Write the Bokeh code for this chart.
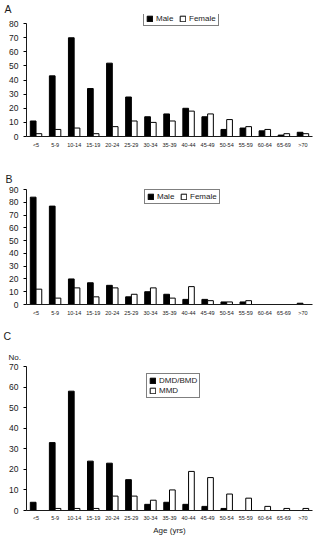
from bokeh.plotting import figure
from bokeh.layouts import column
from bokeh.models import ColumnDataSource, Range1d, Legend, Title
from bokeh.transform import dodge
from bokeh.embed import file_html
from bokeh.resources import INLINE

ages = ["<5", "5-9", "10-14", "15-19", "20-24", "25-29", "30-34", "35-39",
        "40-44", "45-49", "50-54", "55-59", "60-64", "65-69", ">70"]

# Panel A
a_male = [11, 43, 70, 34, 52, 28, 14, 16, 20, 14, 5, 6, 4, 1, 3]
a_female = [2, 5, 6, 2, 7, 11, 10, 11, 18, 16, 12, 7, 5, 2, 2]

# Panel B
b_male = [84, 77, 20, 17, 15, 6, 10, 8, 4, 4, 2, 2, 0, 0, 1]
b_female = [12, 5, 13, 6, 13, 8, 13, 5, 14, 3, 2, 3, 0, 0, 0]

# Panel C
c_dmd = [4, 33, 58, 24, 23, 15, 3, 4, 3, 2, 1, 0, 0, 0, 0]
c_mmd = [0, 1, 1, 1, 7, 7, 5, 10, 19, 16, 8, 6, 2, 1, 1]

FONT = "Liberation Sans"
INK = "#1a1a1a"


def panel(height, ymax, yend, s1, s2, names, border, legend_pos, orient, letter, letter_gap):
    top, bottom, left, right = border
    p = figure(x_range=ages, y_range=Range1d(0, yend), width=332, height=height,
               output_backend="svg", toolbar_location=None,
               min_border_top=top, min_border_bottom=bottom,
               min_border_left=left, min_border_right=right)
    p.x_range.range_padding = 0
    p.outline_line_color = None
    p.grid.visible = False

    p.title.text = letter
    p.title.text_font = FONT
    p.title.text_font_size = "10.5px"
    p.title.text_font_style = "normal"
    p.title.text_color = INK
    p.title.align = "left"
    p.title.offset = 3 - left
    p.title.standoff = letter_gap

    src = ColumnDataSource(dict(age=ages, a=s1, b=s2))
    r1 = p.vbar(x=dodge("age", -0.15, range=p.x_range), top="a", width=0.3, source=src,
                fill_color="black", line_color="black", line_width=1)
    r2 = p.vbar(x=dodge("age", 0.15, range=p.x_range), top="b", width=0.3, source=src,
                fill_color="white", line_color="black", line_width=1)

    leg = Legend(items=[(names[0], [r1]), (names[1], [r2])], location=legend_pos,
                 orientation=orient, margin=0, padding=2, spacing=3 if orient == "horizontal" else 1,
                 label_standoff=3, glyph_width=7, glyph_height=7, label_height=7,
                 label_text_font_size="8px", label_text_font=FONT,
                 label_text_color=INK, border_line_color="black", border_line_width=1,
                 background_fill_alpha=1)
    p.add_layout(leg, "center")

    p.yaxis.bounds = (0, ymax)
    p.yaxis.ticker = list(range(0, ymax + 1, 10))
    p.yaxis.major_label_text_font_size = "8.5px"
    p.yaxis.major_label_text_font = FONT
    p.yaxis.major_label_text_color = INK
    p.yaxis.major_tick_out = 3
    p.yaxis.major_tick_in = 0
    p.yaxis.minor_tick_line_color = None
    p.yaxis.major_label_standoff = 5
    p.yaxis.axis_line_color = INK

    p.xaxis.major_label_text_font_size = "5.5px"
    p.xaxis.major_label_text_font = FONT
    p.xaxis.major_label_text_color = INK
    p.xaxis.major_tick_line_color = None
    p.xaxis.major_tick_out = 0
    p.xaxis.major_tick_in = 0
    p.xaxis.major_label_standoff = 5
    p.xaxis.axis_line_color = INK
    return p


pa = panel(150, 80, 86.5, a_male, a_female, ["Male", "Female"], (12, 14, 25, 2),
           (117, 110), "horizontal", "A", 0)
pb = panel(170, 90, 90, b_male, b_female, ["Male", "Female"], (39, 16, 24, 1),
           (118, 100), "horizontal", "B", 9)
pc = panel(217, 70, 70, c_dmd, c_mmd, ["DMD/BMD", "MMD"], (46, 26, 26, 20),
           (120, 112), "vertical", "C", 7)
pc.xaxis.major_label_standoff = 4
pc.xaxis.axis_label = "Age (yrs)"
pc.xaxis.axis_label_text_font = FONT
pc.xaxis.axis_label_text_font_size = "8px"
pc.xaxis.axis_label_text_font_style = "normal"
pc.xaxis.axis_label_text_color = INK
pc.xaxis.axis_label_standoff = 2
pc.add_layout(Title(text="No.", text_font=FONT, text_font_size="8px",
                    text_font_style="normal", text_color=INK, align="left",
                    offset=8 - 26, standoff=10), "above")

layout = column(pa, pb, pc, spacing=0)
open("out.html", "w").write(file_html(layout, INLINE))
